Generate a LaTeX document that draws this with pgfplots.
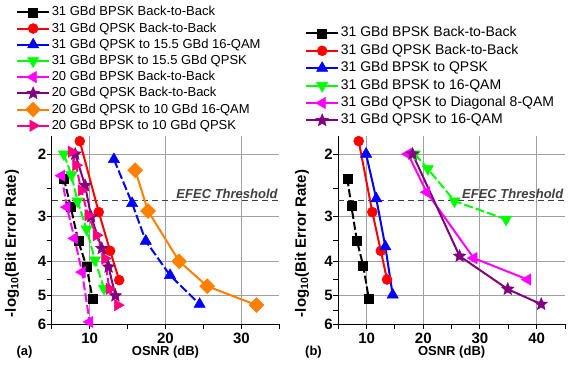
\documentclass[border=0pt]{standalone}
\usepackage{fontspec}
\setmainfont{Liberation Sans}
\usepackage{pgfplots}
\pgfplotsset{compat=1.18}
\definecolor{cgreen}{RGB}{0,255,0}
\definecolor{cmag}{RGB}{255,0,255}
\definecolor{cpurp}{RGB}{128,0,128}
\definecolor{corange}{RGB}{255,128,0}
\definecolor{cpink}{RGB}{255,0,128}
\definecolor{cgrid}{RGB}{160,160,160}
\definecolor{cthr}{RGB}{64,64,64}
\pgfdeclareplotmark{fstar}{%
 \pgfpathmoveto{\pgfpointpolar{90}{\pgfplotmarksize}}%
 \pgfpathlineto{\pgfpointpolar{126}{0.45\pgfplotmarksize}}%
 \pgfpathlineto{\pgfpointpolar{162}{\pgfplotmarksize}}%
 \pgfpathlineto{\pgfpointpolar{198}{0.45\pgfplotmarksize}}%
 \pgfpathlineto{\pgfpointpolar{234}{\pgfplotmarksize}}%
 \pgfpathlineto{\pgfpointpolar{270}{0.45\pgfplotmarksize}}%
 \pgfpathlineto{\pgfpointpolar{306}{\pgfplotmarksize}}%
 \pgfpathlineto{\pgfpointpolar{342}{0.45\pgfplotmarksize}}%
 \pgfpathlineto{\pgfpointpolar{18}{\pgfplotmarksize}}%
 \pgfpathlineto{\pgfpointpolar{54}{0.45\pgfplotmarksize}}%
 \pgfpathclose
 \pgfusepathqfillstroke
}
\begin{document}
\begin{tikzpicture}
\path[use as bounding box] (0,0) rectangle (573pt,370pt);
% ---------------- panel (a)
\begin{axis}[at={(51.7pt,46pt)}, anchor=south west, width=227.6pt,
  scale only axis, height=188pt,
  ymode=log, y dir=reverse, ymin=1.78, ymax=6,
  ytick={2,3,4,5,6}, yticklabels={2,3,4,5,6}, minor ytick={2.5,3.5,4.5,5.5},
  xmin=5, xmax=35, xtick={10,20,30}, minor xtick={5,15,25,35},
  axis x line*=bottom, axis y line*=left,
  axis line style={-, line width=1pt, black},
  tick align=outside, major tick length=5pt, minor tick length=5pt,
  tick style={black, line width=1pt},
  grid=major, major grid style={cgrid, line width=1pt},
  /pgf/number format/assume math mode=true,
  tick label style={font=\fontsize{15}{15}\selectfont\bfseries},
  yticklabel style={xshift=3pt},
  xlabel={OSNR (dB)},
  xlabel style={font=\fontsize{13}{13}\selectfont\bfseries, at={(axis description cs:0.5,-0.149)}, anchor=center},
  ylabel={-log\textsubscript{10}(Bit Error Rate)},
  ylabel style={font=\fontsize{15}{15}\selectfont\bfseries, anchor=center, at={(axis description cs:-0.174,0.428)}},
  clip=false,
  legend image code/.code={\draw[solid, mark repeat=2, mark phase=2] plot coordinates {(0pt,0pt)(16pt,0pt)(32pt,0pt)};},
  legend style={draw=none, fill=none, at={(-0.157,1.702)}, anchor=north west,
    inner sep=0pt, font=\fontsize{13}{13}\selectfont,
    nodes={inner sep=1.6pt, text height=10pt, text depth=3pt}, row sep=0pt},
  legend cell align=left]
\addplot[cthr, line width=1.2pt, dash pattern=on 6pt off 4pt, forget plot] coordinates {(5,2.7) (35,2.7)};
\node[anchor=south east, inner sep=1.5pt, text=cthr, font=\fontsize{13}{13}\selectfont\bfseries\itshape] at (axis cs:35,2.7) {EFEC Threshold};
\addplot[black, line width=2pt, dash pattern=on 8pt off 3pt, mark=square*, mark size=4.5pt, mark options={solid, line width=0.5pt}]
  coordinates {(6.6,2.34) (7.5,2.81) (8.5,3.51) (9.6,4.14) (10.4,5.11)};
\addlegendentry{31 GBd BPSK Back-to-Back}
\addplot[red, line width=2pt, mark=*, mark size=5pt, mark options={solid, line width=0.5pt}]
  coordinates {(8.7,1.84) (11.2,2.91) (12.7,3.74) (13.9,4.52)};
\addlegendentry{31 GBd QPSK Back-to-Back}
\addplot[blue, line width=2pt, dash pattern=on 9pt off 3pt, mark=triangle*, mark size=6.5pt, mark options={solid, line width=0.5pt}]
  coordinates {(13.2,2.07) (15.6,2.75) (17.4,3.51) (20.6,4.38) (24.5,5.28)};
\addlegendentry{31 GBd QPSK to 15.5 GBd 16-QAM}
\addplot[cgreen, line width=2pt, dash pattern=on 9pt off 3pt, mark=triangle*, mark size=6.5pt, mark options={solid, line width=0.5pt, rotate=180}]
  coordinates {(6.6,2.0) (7.6,2.29) (8.4,2.71) (9.6,3.25) (10.7,3.97) (11.9,4.77)};
\addlegendentry{31 GBd BPSK to 15.5 GBd QPSK}
\addplot[cmag, line width=2pt, dash pattern=on 9pt off 3pt, mark=triangle*, mark size=6.5pt, mark options={solid, line width=0.5pt, rotate=90}]
  coordinates {(6.3,2.30) (7.0,2.82) (8.0,3.45) (9.0,4.29) (10.0,5.92)};
\addlegendentry{20 GBd BPSK Back-to-Back}
\addplot[cpurp, line width=2pt, mark=fstar, mark size=6.5pt, mark options={solid, line width=0.5pt}]
  coordinates {(8.1,2.0) (9.4,2.45) (10.2,3.0) (11.6,3.68) (12.5,4.15) (13.4,5.0)};
\addlegendentry{20 GBd QPSK Back-to-Back}
\addplot[corange, line width=2pt, mark=square*, mark size=5.3pt, mark options={solid, line width=0.5pt, rotate=45}]
  coordinates {(16.0,2.22) (17.7,2.89) (21.8,4.0) (25.5,4.70) (32.0,5.31)};
\addlegendentry{20 GBd QPSK to 10 GBd 16-QAM}
\addplot[cpink, line width=2pt, dash pattern=on 9pt off 3pt, mark=triangle*, mark size=6.5pt, mark options={solid, line width=0.5pt, rotate=-90}]
  coordinates {(7.6,1.97) (8.2,2.15) (8.9,2.53) (9.8,2.97) (10.9,3.38) (12.0,3.93) (12.6,4.78) (13.7,5.31)};
\addlegendentry{20 GBd BPSK to 10 GBd QPSK}
\end{axis}
\node[font=\fontsize{13}{13}\selectfont\bfseries] at (24.5pt,17.5pt) {(a)};
% ---------------- panel (b)
\begin{axis}[at={(338.3pt,46pt)}, anchor=south west, width=226.7pt,
  scale only axis, height=188pt,
  ymode=log, y dir=reverse, ymin=1.78, ymax=6,
  ytick={2,3,4,5,6}, yticklabels={2,3,4,5,6}, minor ytick={2.5,3.5,4.5,5.5},
  xmin=5, xmax=45, xtick={10,20,30,40}, minor xtick={5,15,25,35,45},
  axis x line*=bottom, axis y line*=left,
  axis line style={-, line width=1pt, black},
  tick align=outside, major tick length=5pt, minor tick length=5pt,
  tick style={black, line width=1pt},
  grid=major, major grid style={cgrid, line width=1pt},
  /pgf/number format/assume math mode=true,
  tick label style={font=\fontsize{15}{15}\selectfont\bfseries},
  yticklabel style={xshift=3pt},
  xlabel={OSNR (dB)},
  xlabel style={font=\fontsize{13}{13}\selectfont\bfseries, at={(axis description cs:0.5,-0.149)}, anchor=center},
  ylabel={-log\textsubscript{10}(Bit Error Rate)},
  ylabel style={font=\fontsize{15}{15}\selectfont\bfseries, anchor=center, at={(axis description cs:-0.16,0.428)}},
  clip=false,
  legend image code/.code={\draw[solid, mark repeat=2, mark phase=2] plot coordinates {(0pt,0pt)(16pt,0pt)(32pt,0pt)};},
  legend style={draw=none, fill=none, at={(-0.147,1.593)}, anchor=north west,
    inner sep=0pt, font=\fontsize{14}{14}\selectfont,
    nodes={inner sep=1.7pt, text height=10.5pt, text depth=3.5pt}, row sep=0pt},
  legend cell align=left]
\addplot[cthr, line width=1.2pt, dash pattern=on 6pt off 4pt, forget plot] coordinates {(5,2.7) (45,2.7)};
\node[anchor=south east, inner sep=1.5pt, text=cthr, font=\fontsize{13}{13}\selectfont\bfseries\itshape] at (axis cs:45,2.7) {EFEC Threshold};
\addplot[black, line width=2pt, dash pattern=on 8pt off 3pt, mark=square*, mark size=4.5pt, mark options={solid, line width=0.5pt}]
  coordinates {(6.6,2.34) (7.3,2.80) (8.3,3.51) (9.4,4.12) (10.4,5.11)};
\addlegendentry{31 GBd BPSK Back-to-Back}
\addplot[red, line width=2pt, mark=*, mark size=5pt, mark options={solid, line width=0.5pt}]
  coordinates {(8.6,1.84) (11.0,2.91) (12.5,3.74) (13.6,4.50)};
\addlegendentry{31 GBd QPSK Back-to-Back}
\addplot[blue, line width=2pt, mark=triangle*, mark size=6.5pt, mark options={solid, line width=0.5pt}]
  coordinates {(9.9,2.0) (11.7,2.67) (13.3,3.64) (14.6,4.97)};
\addlegendentry{31 GBd BPSK to QPSK}
\addplot[cgreen, line width=2pt, dash pattern=on 9pt off 3pt, mark=triangle*, mark size=6.5pt, mark options={solid, line width=0.5pt, rotate=180}]
  coordinates {(18.5,2.0) (20.8,2.20) (25.5,2.71) (34.6,3.05)};
\addlegendentry{31 GBd BPSK to 16-QAM}
\addplot[cmag, line width=2pt, mark=triangle*, mark size=6.5pt, mark options={solid, line width=0.5pt, rotate=90}]
  coordinates {(17.3,2.0) (20.6,2.56) (28.9,3.92) (38.4,4.50)};
\addlegendentry{31 GBd QPSK to Diagonal 8-QAM}
\addplot[cpurp, line width=2pt, mark=fstar, mark size=6.5pt, mark options={solid, line width=0.5pt}]
  coordinates {(18.1,2.0) (26.4,3.87) (34.9,4.79) (40.8,5.28)};
\addlegendentry{31 GBd QPSK to 16-QAM}
\end{axis}
\node[font=\fontsize{13}{13}\selectfont\bfseries] at (313.5pt,17.5pt) {(b)};
\end{tikzpicture}
\end{document}
